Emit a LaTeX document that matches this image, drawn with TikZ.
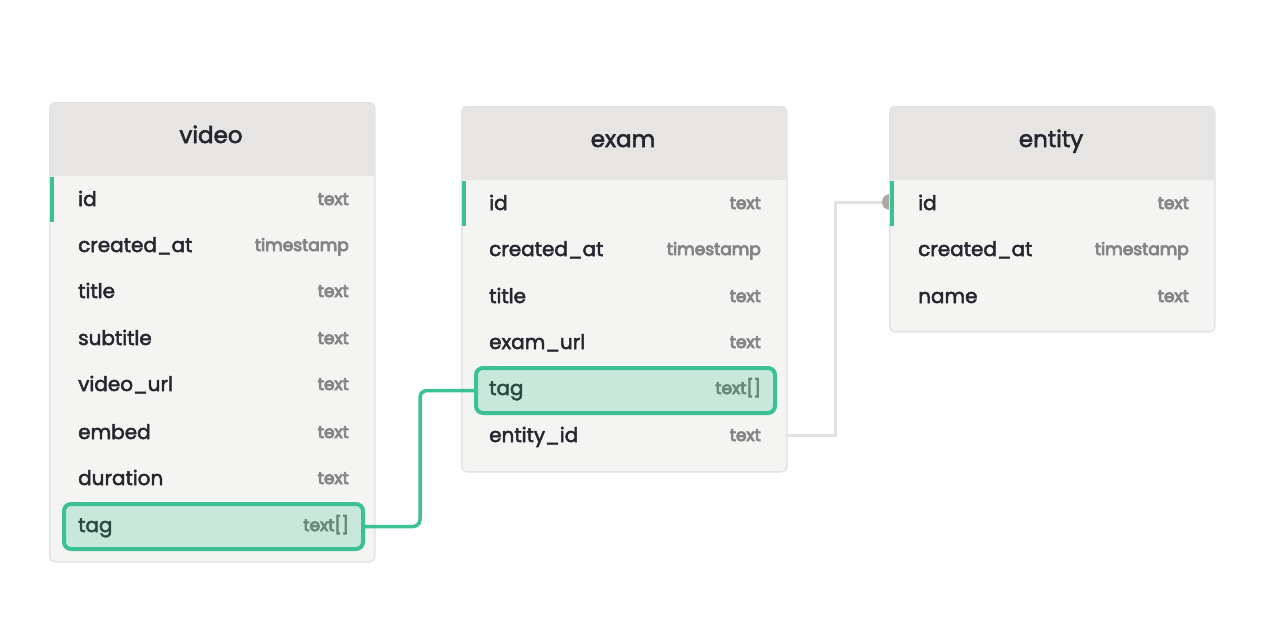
\documentclass[tikz,border=0pt]{standalone}
\usepackage{fontspec}
\setmainfont{Poppins}
\newfontfamily\medfont[FakeBold=2.5]{Poppins}
\newfontfamily\typefont[FakeBold=5]{Poppins}
\usetikzlibrary{calc}
\definecolor{border}{HTML}{E3E3E6}
\definecolor{bodyfill}{HTML}{F4F4F3}
\definecolor{hdrfill}{HTML}{E6E5E4}
\definecolor{txt}{HTML}{26262E}
\definecolor{typegray}{HTML}{858585}
\definecolor{accent}{HTML}{3CC194}
\definecolor{hlfill}{HTML}{C8E8DC}
\definecolor{hltxt}{HTML}{2E4A40}
\definecolor{hltype}{HTML}{6B887C}
\definecolor{linkgray}{HTML}{E2E2E2}
\definecolor{portgray}{HTML}{ABA8A6}
\tikzset{
  tblbody/.style={fill=bodyfill, rounded corners=5pt, minimum width=#1, anchor=north west, inner sep=0pt},
  tblframe/.style={draw=border, line width=1.5pt, rounded corners=5pt, anchor=north west, inner sep=0pt},
  hdrbox/.style={fill=hdrfill, rounded corners=5pt, anchor=north west, inner sep=0pt, minimum height=74pt},
  hdrtext/.style={anchor=base, font=\fontsize{23}{26}\selectfont\medfont, text=txt, inner sep=0pt},
  fname/.style={anchor=base west, font=\fontsize{20}{24}\selectfont\medfont, text=txt, inner sep=0pt},
  ftype/.style={anchor=base east, font=\fontsize{17}{20}\selectfont\typefont, text=typegray, inner sep=0pt},
  hlname/.style={fname, text=hltxt},
  hltype/.style={ftype, text=hltype},
  hlbox/.style={draw=accent, fill=hlfill, line width=4pt, rounded corners=7pt, anchor=north west, inner sep=0pt},
  keybar/.style={fill=accent},
  relgreen/.style={draw=accent, line width=3.5pt, rounded corners=7pt},
  relgray/.style={draw=linkgray, line width=3pt},
}
\begin{document}
\begin{tikzpicture}[x=1pt,y=-1pt]
\useasboundingbox (0,0) rectangle (1280,640);
\fill[white] (0,0) rectangle (1280,640);

% ---------- gray relation port ----------
\coordinate (grayturn) at (835,0);
\coordinate (port) at (890,202);
\fill[portgray] (port) circle (8pt);

% ---------- video table ----------
\node[tblbody=325pt, minimum height=459pt] (video) at (49,102) {};
\node[hdrbox, minimum width=325pt] (videohdr) at (49,102) {};
\fill[hdrfill] (49.5,160) rectangle (373.5,176);
\node[tblframe, minimum width=325pt, minimum height=459pt] (videoframe) at (49,102) {};
\node[hdrtext] (videotitle) at (211,143) {video};
\fill[keybar] (49.5,177) rectangle (53.5,222);
\node[hlbox, minimum width=299pt, minimum height=45pt] (videotagbox) at (62,502) {};
\node[fname] (video-id) at (78,206) {id};
\node[ftype] (video-idt) at (349,205) {text};
\node[fname] (video-created) at (78,252) {created\_at};
\node[ftype] (video-createdt) at (349,251) {timestamp};
\node[fname] (video-title) at (78,298) {title};
\node[ftype] (video-titlet) at (349,297) {text};
\node[fname] (video-subtitle) at (78,345) {subtitle};
\node[ftype] (video-subtitlet) at (349,344) {text};
\node[fname] (video-url) at (78,391) {video\_url};
\node[ftype] (video-urlt) at (349,390) {text};
\node[fname] (video-embed) at (78,439) {embed};
\node[ftype] (video-embedt) at (349,438) {text};
\node[fname] (video-duration) at (78,485) {duration};
\node[ftype] (video-durationt) at (349,484) {text};
\node[hlname] (video-tag) at (78,532) {tag};
\node[hltype] (video-tagt) at (349,531) {text[]};

% ---------- exam table ----------
\node[tblbody=325pt, minimum height=365pt] (exam) at (461,106) {};
\node[hdrbox, minimum width=325pt] (examhdr) at (461,106) {};
\fill[hdrfill] (461.5,164) rectangle (785.5,180);
\node[tblframe, minimum width=325pt, minimum height=365pt] (examframe) at (461,106) {};
\node[hdrtext] (examtitle) at (623,147) {exam};
\fill[keybar] (461.5,181) rectangle (465.5,226);
\node[hlbox, minimum width=299pt, minimum height=45pt] (examtagbox) at (474,366) {};
\node[fname] (exam-id) at (489,210) {id};
\node[ftype] (exam-idt) at (761,209) {text};
\node[fname] (exam-created) at (489,256) {created\_at};
\node[ftype] (exam-createdt) at (761,255) {timestamp};
\node[fname] (exam-title) at (489,303) {title};
\node[ftype] (exam-titlet) at (761,302) {text};
\node[fname] (exam-url) at (489,349) {exam\_url};
\node[ftype] (exam-urlt) at (761,348) {text};
\node[hlname] (exam-tag) at (489,395) {tag};
\node[hltype] (exam-tagt) at (761,394) {text[]};
\node[fname] (exam-entity) at (489,442) {entity\_id};
\node[ftype] (exam-entityt) at (761,441) {text};

% ---------- entity table ----------
\node[tblbody=325pt, minimum height=225pt] (entity) at (889,106) {};
\node[hdrbox, minimum width=325pt] (entityhdr) at (889,106) {};
\fill[hdrfill] (889.5,164) rectangle (1213.5,180);
\node[tblframe, minimum width=325pt, minimum height=225pt] (entityframe) at (889,106) {};
\node[hdrtext] (entitytitle) at (1051,147) {entity};
\fill[keybar] (890,181) rectangle (894,226);
\node[fname] (entity-id) at (918,210) {id};
\node[ftype] (entity-idt) at (1189,209) {text};
\node[fname] (entity-created) at (918,256) {created\_at};
\node[ftype] (entity-createdt) at (1189,255) {timestamp};
\node[fname] (entity-name) at (918,303) {name};
\node[ftype] (entity-namet) at (1189,302) {text};

% ---------- relations ----------
\coordinate (examrow) at (0,435);
\draw[relgreen] (videotagbox.east) -- ++(55,0) |- (examtagbox.west);
\draw[relgray] (examframe.east |- examrow) -- (grayturn |- examrow) -- (grayturn |- port) -- ($(port)+(-8,0)$);
\end{tikzpicture}
\end{document}
